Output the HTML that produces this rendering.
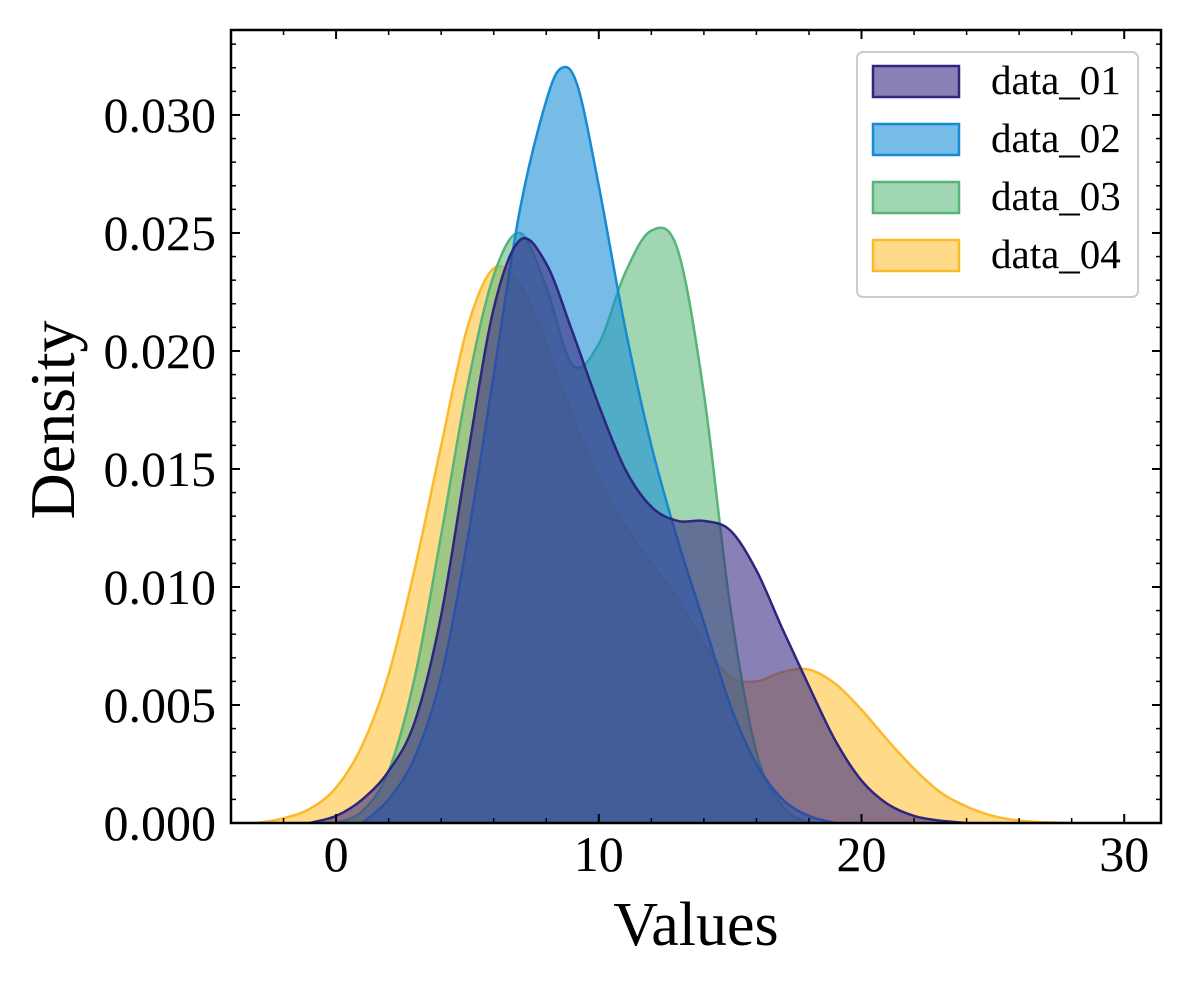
<!DOCTYPE html>
<html><head><meta charset="utf-8"><style>
body{margin:0;background:#fff}
text{font-family:"Liberation Serif","DejaVu Serif",serif;fill:#000}
</style></head><body>
<svg id="c" width="1192" height="987" xmlns="http://www.w3.org/2000/svg"></svg>
<script>
const seriesNames=["data_01","data_02","data_03","data_04"];
const xs01=[-1,0,1,2,3,4,5,6,7,8,9,10,11,12,13,14,15,16,17,18,19,20,21,22,23,24];
const ys01=[0,0.0003,0.001,0.0022,0.0043,0.0088,0.0155,0.0218,0.0247,0.0237,0.0208,0.0177,0.015,0.0134,0.0128,0.0128,0.0124,0.0107,0.0082,0.0058,0.0035,0.0018,0.0008,0.0003,0.0001,0];
const xs02=[1,2,3,4,5,6,7,8,8.6,9.2,10,11,12,13,14,15,16,17,18,19];
const ys02=[0,0.001,0.0028,0.0062,0.012,0.019,0.026,0.0306,0.032,0.0312,0.027,0.021,0.016,0.012,0.0085,0.005,0.0025,0.001,0.0003,0];
const xs03=[0,1,2,3,4,5,6,7,8,9,10,11,12,13,14,15,16,17,18];
const ys03=[0,0.0005,0.0022,0.0062,0.0122,0.0185,0.0232,0.025,0.0227,0.0194,0.0203,0.0233,0.0251,0.0243,0.0182,0.0092,0.003,0.0007,0];
const xs04=[-3,-2,-1,0,1,2,3,4,5,6,7,8,9,10,11,12,13,14,15,16,17,18,19,20,21,22,23,24,25,26,27,28];
const ys04=[0,0.0002,0.0006,0.0015,0.0033,0.0063,0.0108,0.016,0.021,0.0235,0.0228,0.0203,0.0172,0.0146,0.0126,0.011,0.0095,0.0076,0.0062,0.006,0.0064,0.0065,0.0059,0.0048,0.0035,0.0023,0.0013,0.0007,0.0003,0.0001,0.00003,0];
const xTicks=[0,10,20,30];
const yTicks=[0,0.005,0.01,0.015,0.02,0.025,0.03];
const colors={data_01:["#3b2d86","#2e2580"],data_02:["#1a8fd6","#168bd3"],data_03:["#60bb7e","#56b577"],data_04:["#ffc23a","#fbb92c"]};
const L=231,R=1161,T=30,B=823,xmin=-4,xmax=31.4,ymax=0.0336;
const X=v=>L+(v-xmin)/(xmax-xmin)*(R-L);
const Y=v=>B-v/ymax*(B-T);
const svg=document.getElementById('c');const NS="http://www.w3.org/2000/svg";
function el(t,a,p){const e=document.createElementNS(NS,t);for(const k in a)e.setAttribute(k,a[k]);(p||svg).appendChild(e);return e;}
function pathD(xs,ys){const P=xs.map((x,i)=>[X(x),Y(ys[i])]);let d=`M${P[0][0]},${P[0][1]}`;
for(let i=0;i<P.length-1;i++){const p0=P[i-1]||P[i],p1=P[i],p2=P[i+1],p3=P[i+2]||p2;
const c1=[p1[0]+(p2[0]-p0[0])/6,p1[1]+(p2[1]-p0[1])/6],c2=[p2[0]-(p3[0]-p1[0])/6,p2[1]-(p3[1]-p1[1])/6];
c1[1]=Math.min(c1[1],B);c2[1]=Math.min(c2[1],B);
d+=` C${c1[0]},${c1[1]} ${c2[0]},${c2[1]} ${p2[0]},${p2[1]}`;}return d;}
const data={data_01:[xs01,ys01],data_02:[xs02,ys02],data_03:[xs03,ys03],data_04:[xs04,ys04]};
const clip=el('clipPath',{id:'cp'});el('rect',{x:L,y:T,width:R-L,height:B-T},clip);
const g=el('g',{'clip-path':'url(#cp)'});
["data_04","data_03","data_02","data_01"].forEach(n=>{const [xs,ys]=data[n];const d=pathD(xs,ys);
const a=el('path',{d:d+` L${X(xs[xs.length-1])},${B} L${X(xs[0])},${B} Z`,fill:colors[n][0],'fill-opacity':0.6,stroke:'none'},g);

const l=el('path',{d:d,fill:'none',stroke:colors[n][1],'stroke-width':2.5},g);
});
for(let v=-4;v<=31;v+=2){const x=X(v);const maj=xTicks.includes(v);const s=maj?9:5;
el('line',{x1:x,y1:B,x2:x,y2:B-s,stroke:'#000','stroke-width':maj?2:1.5});el('line',{x1:x,y1:T,x2:x,y2:T+s,stroke:'#000','stroke-width':maj?2:1.5});}
for(let i=0;i<=33;i++){const v=i*0.001;const y=Y(v);const maj=i%5==0;const s=maj?9:5;
el('line',{x1:L,y1:y,x2:L+s,y2:y,stroke:'#000','stroke-width':maj?2:1.5});el('line',{x1:R,y1:y,x2:R-s,y2:y,stroke:'#000','stroke-width':maj?2:1.5});}
xTicks.forEach(v=>{const t=el('text',{x:X(v),y:871,'font-size':50,'text-anchor':'middle'});t.textContent=v;
});
yTicks.forEach(v=>{const t=el('text',{x:216,y:Y(v)+17,'font-size':50,'text-anchor':'end'});t.textContent=v.toFixed(3);
});
el('rect',{x:L,y:T,width:R-L,height:B-T,fill:'none',stroke:'#000','stroke-width':2.5});
const xt=el('text',{x:696,y:945,'font-size':62,'text-anchor':'middle',});xt.textContent='Values';
const yt=el('text',{x:74,y:420,'font-size':64,'text-anchor':'middle',transform:'rotate(-90 74 420)',});yt.textContent='Density';
const lg=el('g',{});
el('rect',{x:857,y:52,width:281,height:245,rx:6,fill:'#fff','fill-opacity':0.85,stroke:'#ccc','stroke-width':2},lg);
seriesNames.forEach((n,i)=>{const y=66+i*58;
const r=el('rect',{x:873,y:y,width:86,height:31,fill:colors[n][0],'fill-opacity':0.6,stroke:colors[n][1],'stroke-width':2.5},lg);

const t=el('text',{x:991,y:y+28,'font-size':41},lg);t.textContent=n;
});
</script>
</body></html>
